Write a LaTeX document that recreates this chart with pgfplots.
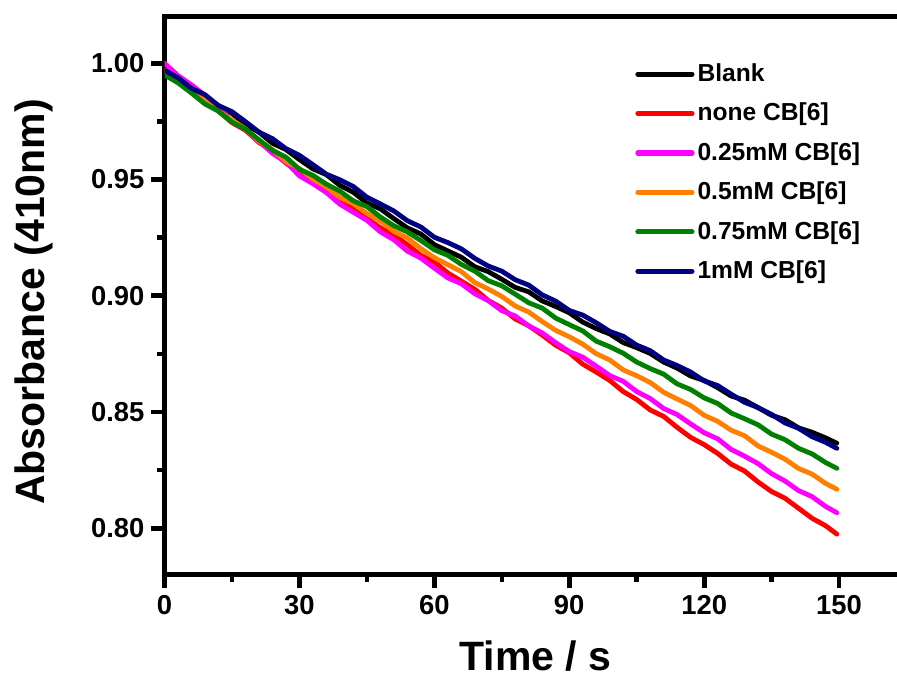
\documentclass[border=0pt]{standalone}
\usepackage{fontspec}
\setmainfont{Liberation Sans}
\usepackage{pgfplots}
\usepackage{pgfplotstable}
\pgfplotsset{compat=1.18}

\definecolor{cbRed}{RGB}{255,0,0}
\definecolor{cbMagenta}{RGB}{255,0,255}
\definecolor{cbOrange}{RGB}{255,128,0}
\definecolor{cbGreen}{RGB}{0,128,0}
\definecolor{cbNavy}{RGB}{0,0,128}

% Absorbance at 410 nm versus time
% columns: time, blank, no CB[6], 0.25 mM, 0.5 mM, 0.75 mM, 1 mM
\pgfplotstableread{
t blank none qa qb qc qd
0 0.9970 0.9970 1.0000 0.9970 0.9950 0.9970
3 0.9929 0.9929 0.9947 0.9931 0.9916 0.9938
6 0.9899 0.9878 0.9907 0.9882 0.9872 0.9892
9 0.9850 0.9843 0.9862 0.9846 0.9825 0.9865
12 0.9818 0.9795 0.9806 0.9794 0.9794 0.9818
15 0.9785 0.9745 0.9754 0.9756 0.9747 0.9792
18 0.9735 0.9712 0.9716 0.9718 0.9717 0.9749
21 0.9704 0.9660 0.9665 0.9666 0.9671 0.9704
24 0.9656 0.9622 0.9613 0.9629 0.9626 0.9676
27 0.9629 0.9571 0.9575 0.9578 0.9596 0.9633
30 0.9586 0.9530 0.9516 0.9547 0.9544 0.9604
33 0.9546 0.9496 0.9482 0.9502 0.9518 0.9564
36 0.9521 0.9446 0.9444 0.9468 0.9480 0.9523
39 0.9475 0.9416 0.9394 0.9423 0.9450 0.9499
42 0.9445 0.9381 0.9359 0.9396 0.9408 0.9470
45 0.9399 0.9333 0.9325 0.9354 0.9384 0.9424
48 0.9374 0.9292 0.9275 0.9322 0.9339 0.9395
51 0.9332 0.9261 0.9241 0.9277 0.9301 0.9365
54 0.9292 0.9220 0.9192 0.9249 0.9275 0.9323
57 0.9266 0.9174 0.9162 0.9203 0.9238 0.9296
60 0.9220 0.9146 0.9119 0.9164 0.9198 0.9252
63 0.9193 0.9098 0.9077 0.9134 0.9174 0.9229
66 0.9166 0.9063 0.9052 0.9104 0.9135 0.9202
69 0.9125 0.9028 0.9009 0.9057 0.9106 0.9161
72 0.9104 0.8980 0.8979 0.9029 0.9065 0.9128
75 0.9071 0.8947 0.8936 0.8997 0.9043 0.9106
78 0.9036 0.8900 0.8913 0.8956 0.9007 0.9069
81 0.9017 0.8871 0.8870 0.8930 0.8970 0.9046
84 0.8978 0.8831 0.8840 0.8889 0.8947 0.9004
87 0.8954 0.8787 0.8798 0.8851 0.8904 0.8977
90 0.8927 0.8755 0.8760 0.8824 0.8876 0.8937
93 0.8887 0.8706 0.8736 0.8792 0.8849 0.8917
96 0.8859 0.8672 0.8697 0.8751 0.8805 0.8884
99 0.8836 0.8636 0.8657 0.8724 0.8781 0.8847
102 0.8799 0.8588 0.8632 0.8681 0.8753 0.8826
105 0.8777 0.8554 0.8588 0.8656 0.8715 0.8788
108 0.8752 0.8509 0.8558 0.8627 0.8687 0.8764
111 0.8715 0.8481 0.8515 0.8585 0.8663 0.8724
114 0.8689 0.8434 0.8489 0.8556 0.8621 0.8700
117 0.8655 0.8391 0.8449 0.8528 0.8597 0.8672
120 0.8636 0.8360 0.8411 0.8486 0.8561 0.8634
123 0.8605 0.8322 0.8385 0.8460 0.8537 0.8614
126 0.8569 0.8276 0.8339 0.8422 0.8496 0.8577
129 0.8551 0.8246 0.8310 0.8398 0.8471 0.8542
132 0.8519 0.8199 0.8278 0.8354 0.8445 0.8519
135 0.8486 0.8158 0.8235 0.8327 0.8405 0.8490
138 0.8467 0.8129 0.8203 0.8297 0.8381 0.8453
141 0.8432 0.8086 0.8162 0.8257 0.8344 0.8430
144 0.8413 0.8043 0.8136 0.8233 0.8320 0.8394
147 0.8389 0.8011 0.8094 0.8193 0.8283 0.8370
149.5 0.8366 0.7975 0.8067 0.8168 0.8258 0.8344
}\absdata

\begin{document}
\begin{tikzpicture}
\useasboundingbox (-82.25pt,-52.6pt) rectangle (366.25pt,287.4pt);
\clip (-82.25pt,-52.6pt) rectangle (366.25pt,287.4pt);
\begin{axis}[
  scale only axis,
  width=371pt, height=279pt,
  xmin=0, xmax=165,
  ymin=0.78, ymax=1.02,
  xtick={0,30,...,150},
  ytick={0.80,0.85,0.90,0.95,1.00},
  minor x tick num=1,
  minor y tick num=1,
  tick pos=left,
  tick align=outside,
  major tick length=6.5pt,
  minor tick length=3.5pt,
  major tick style={line width=2.4pt, black},
  minor tick style={line width=2.2pt, black},
  axis line style={line width=2.6pt},
  /pgf/number format/assume math mode=true,
  tick label style={font=\fontsize{13.7}{16}\selectfont\bfseries},
  y tick label style={/pgf/number format/fixed,
    /pgf/number format/fixed zerofill,
    /pgf/number format/precision=2},
  xlabel={Time / s},
  ylabel={Absorbance (410nm)},
  label style={font=\fontsize{20.5}{24}\selectfont\bfseries},
  xlabel style={at={(axis description cs:0.5,-0.172)}, anchor=base},
  ylabel style={at={(axis description cs:-0.176,0.489)}, anchor=center},
  legend cell align=left,
  legend style={draw=none, fill=none,
    at={(axis description cs:0.634,0.922)}, anchor=north west,
    font=\fontsize{12.3}{14}\selectfont\bfseries,
    row sep=6.3pt, inner sep=0pt,
    nodes={inner sep=1.5pt},
    /tikz/every even column/.append style={column sep=4pt}},
  legend image code/.code={\draw[#1, line width=2.6pt, line cap=round] (0pt,0pt) -- (27pt,0pt);},
  every axis plot/.append style={line width=2.4pt, line join=round, line cap=round, mark=none},
]
\addplot[black] table[x=t, y=blank] {\absdata};
\addlegendentry{Blank}
\addplot[cbRed] table[x=t, y=none] {\absdata};
\addlegendentry{none CB[6]}
\addplot[cbMagenta] table[x=t, y=qa] {\absdata};
\addlegendentry{0.25mM CB[6]}
\addplot[cbOrange] table[x=t, y=qb] {\absdata};
\addlegendentry{0.5mM CB[6]}
\addplot[cbGreen] table[x=t, y=qc] {\absdata};
\addlegendentry{0.75mM CB[6]}
\addplot[cbNavy] table[x=t, y=qd] {\absdata};
\addlegendentry{1mM CB[6]}
\end{axis}
\end{tikzpicture}
\end{document}
